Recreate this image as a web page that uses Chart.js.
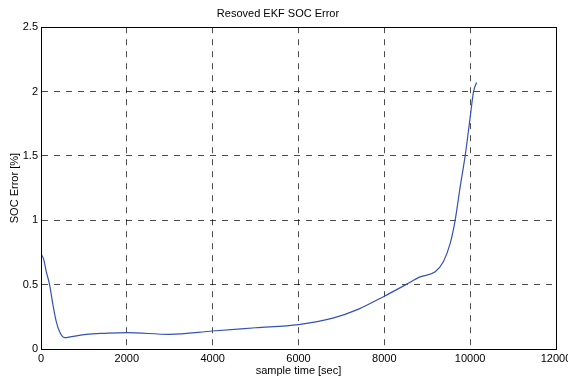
<!DOCTYPE html>
<html>
<head>
<meta charset="utf-8">
<script src="https://cdn.jsdelivr.net/npm/chart.js@4/dist/chart.umd.min.js"></script>
<style>
  html, body { margin: 0; padding: 0; background: #fff; }
  #wrap { width: 568px; height: 378px; }
</style>
</head>
<body>
<div id="wrap"><canvas id="chart"></canvas></div>
<script>
// sample time [sec] and SOC error [%]
const sampleTimes = [0, 60, 124, 200, 280, 357, 434, 550, 707, 1056, 1500, 2000, 3000, 4000, 5000, 6000,
  6800, 7400, 8000, 8500, 8834, 9184, 9378, 9534, 9650, 9767, 9883, 10000, 10078, 10150];
const socError = [0.74, 0.70, 0.60, 0.50, 0.34, 0.21, 0.134, 0.088, 0.096, 0.114, 0.122, 0.127, 0.114, 0.14, 0.165, 0.19,
  0.24, 0.31, 0.41, 0.50, 0.56, 0.60, 0.68, 0.82, 1.0, 1.26, 1.5, 1.80, 2.0, 2.07];
const xTicks = [0, 2000, 4000, 6000, 8000, 10000, 12000];
const yTicks = [0, 0.5, 1, 1.5, 2, 2.5];

const FONT = 'Liberation Sans, Arial, sans-serif';

// draw the black box around the plot like matlab does
const framePlugin = {
  id: 'frame',
  afterDraw(chart) {
    const { ctx, chartArea: a } = chart;
    ctx.save();
    ctx.strokeStyle = '#000';
    ctx.lineWidth = 1;
    ctx.strokeRect(Math.round(a.left) + 0.5, Math.round(a.top) + 0.5,
      Math.round(a.right - a.left), Math.round(a.bottom - a.top));
    ctx.restore();
  }
};

new Chart(document.getElementById('chart'), {
  type: 'line',
  data: {
    datasets: [{
      data: sampleTimes.map((t, i) => ({ x: t, y: socError[i] })),
      borderColor: '#3352b5',
      borderWidth: 1.2,
      pointRadius: 0,
      cubicInterpolationMode: 'monotone',
      fill: false
    }]
  },
  options: {
    responsive: true,
    maintainAspectRatio: false,
    animation: false,
    layout: { padding: { left: 0, right: 12, top: 0, bottom: 0 } },
    plugins: {
      legend: { display: false },
      tooltip: { enabled: false },
      title: {
        display: true,
        text: 'Resoved EKF SOC Error',
        color: '#000',
        font: { family: FONT, size: 11, weight: 'normal' },
        padding: { top: 7, bottom: 7 }
      }
    },
    scales: {
      x: {
        type: 'linear',
        min: 0,
        max: 12000,
        afterBuildTicks: scale => { scale.ticks = xTicks.map(v => ({ value: v })); },
        afterFit: scale => { scale.height = 29; scale.paddingLeft = 0; scale.paddingRight = 0; },
        ticks: {
          color: '#000',
          font: { family: FONT, size: 11 },
          padding: 3,
          maxRotation: 0,
          autoSkip: false,
          callback: v => String(v)
        },
        grid: { color: 'rgba(0,0,0,0.7)', lineWidth: 1, drawTicks: false },
        border: { display: true, color: '#000', width: 1, dash: [6, 6] },
        title: {
          display: true,
          text: 'sample time [sec]',
          color: '#000',
          font: { family: FONT, size: 11 },
          padding: { top: 0, bottom: 0 }
        }
      },
      y: {
        type: 'linear',
        min: 0,
        max: 2.5,
        afterBuildTicks: scale => { scale.ticks = yTicks.map(v => ({ value: v })); },
        afterFit: scale => { scale.width = 41; scale.paddingTop = 0; scale.paddingBottom = 0; },
        ticks: {
          color: '#000',
          font: { family: FONT, size: 11 },
          padding: 3,
          autoSkip: false,
          callback: v => String(v)
        },
        grid: { color: 'rgba(0,0,0,0.7)', lineWidth: 1, drawTicks: false },
        border: { display: true, color: '#000', width: 1, dash: [6, 6] },
        title: {
          display: true,
          text: 'SOC Error [%]',
          color: '#000',
          font: { family: FONT, size: 11 },
          padding: { top: 8, bottom: 0 }
        }
      }
    }
  },
  plugins: [framePlugin]
});
</script>
</body>
</html>
